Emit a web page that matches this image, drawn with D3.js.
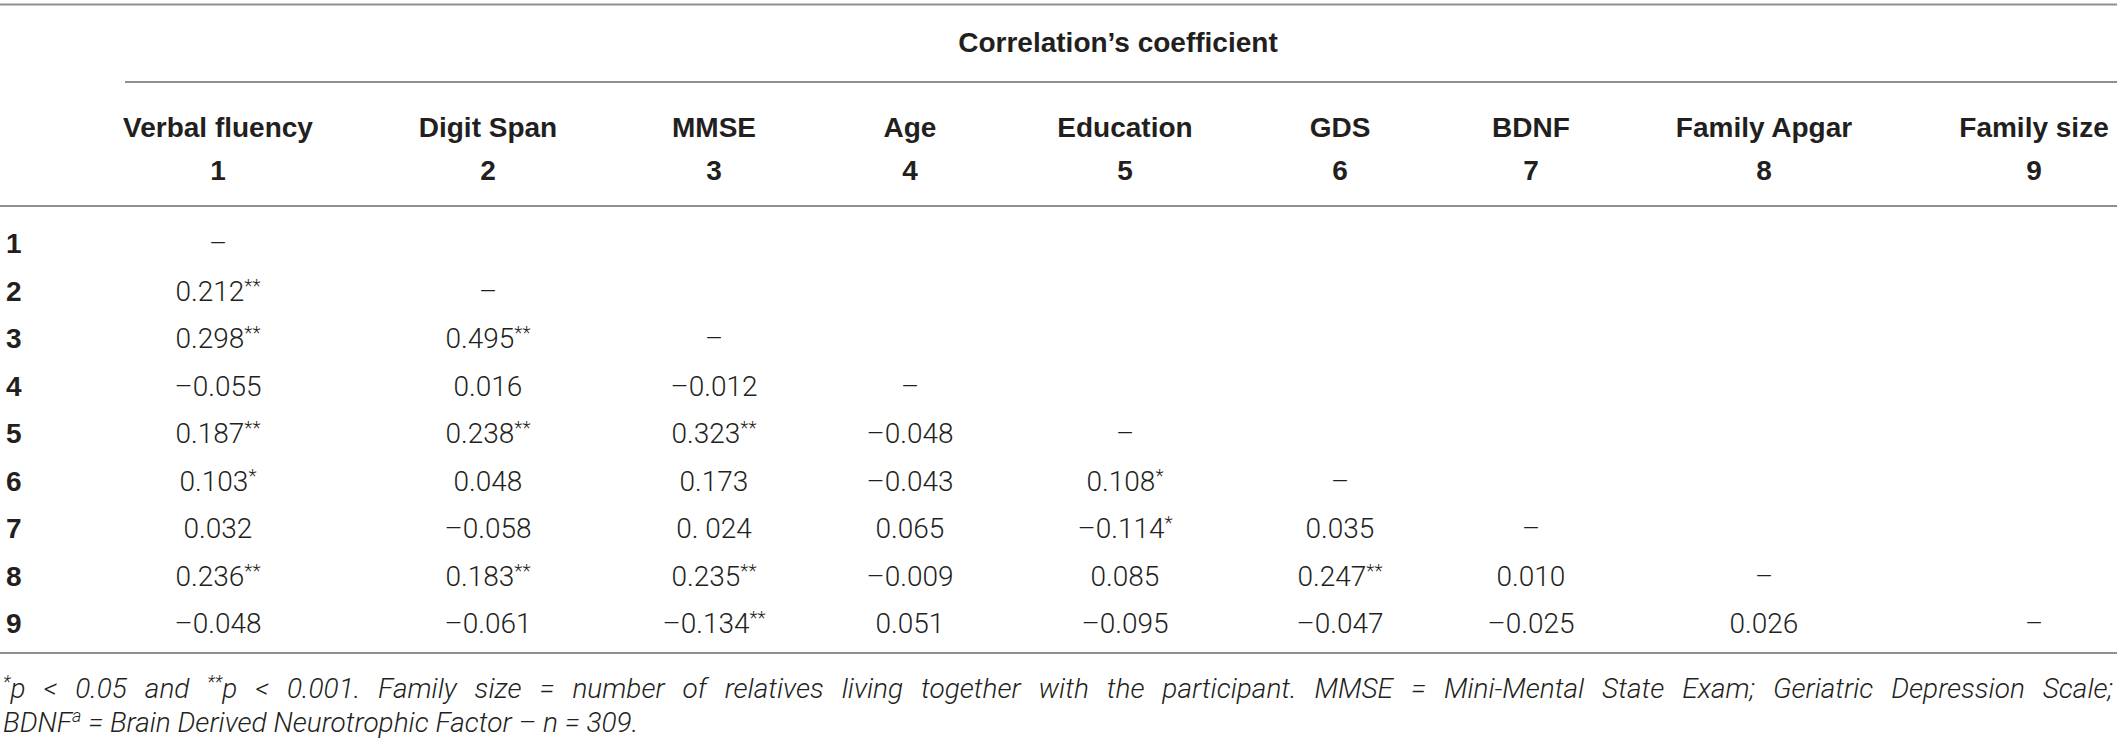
<!DOCTYPE html>
<html>
<head>
<meta charset="utf-8">
<script src="https://cdn.jsdelivr.net/npm/d3@7"></script>
<style>
  html, body { margin: 0; padding: 0; background: #fff; }
  svg { display: block; }
  .hdr { font-family: "Liberation Sans", Arial, sans-serif; font-weight: 700; fill: #231f20; }
  .cell { font-family: Roboto, "Liberation Sans", sans-serif; font-weight: 300; fill: #231f20; }
  .foot { font-family: Roboto, "Liberation Sans", sans-serif; font-weight: 300; font-style: italic; fill: #231f20; }
</style>
</head>
<body>
<script>
// ---- data ----
const title = "Correlation\u2019s coefficient";
const columnNames = ["Verbal fluency", "Digit Span", "MMSE", "Age", "Education", "GDS", "BDNF", "Family Apgar", "Family size"];
const columnNumbers = ["1", "2", "3", "4", "5", "6", "7", "8", "9"];
const rowLabels = ["1", "2", "3", "4", "5", "6", "7", "8", "9"];
// values [row][col]; significance marks kept separately
const row1 = ["\u2013"];
const row2 = ["0.212", "\u2013"];
const row3 = ["0.298", "0.495", "\u2013"];
const row4 = ["\u20130.055", "0.016", "\u20130.012", "\u2013"];
const row5 = ["0.187", "0.238", "0.323", "\u20130.048", "\u2013"];
const row6 = ["0.103", "0.048", "0.173", "\u20130.043", "0.108", "\u2013"];
const row7 = ["0.032", "\u20130.058", "0. 024", "0.065", "\u20130.114", "0.035", "\u2013"];
const row8 = ["0.236", "0.183", "0.235", "\u20130.009", "0.085", "0.247", "0.010", "\u2013"];
const row9 = ["\u20130.048", "\u20130.061", "\u20130.134", "0.051", "\u20130.095", "\u20130.047", "\u20130.025", "0.026", "\u2013"];
const sig1 = [""];
const sig2 = ["**", ""];
const sig3 = ["**", "**", ""];
const sig4 = ["", "", "", ""];
const sig5 = ["**", "**", "**", "", ""];
const sig6 = ["*", "", "", "", "*", ""];
const sig7 = ["", "", "", "", "*", "", ""];
const sig8 = ["**", "**", "**", "", "", "**", "", ""];
const sig9 = ["", "", "**", "", "", "", "", "", ""];
const footnote1 = [["*", true], ["p < 0.05 and ", false], ["**", true], ["p < 0.001. Family size = number of relatives living together with the participant. MMSE = Mini-Mental State Exam; Geriatric Depression Scale;", false]];
const footnote2 = [["BDNF", false], ["a", true], [" = Brain Derived Neurotrophic Factor \u2013 n = 309.", false]];

const values = [row1, row2, row3, row4, row5, row6, row7, row8, row9];
const sigs = [sig1, sig2, sig3, sig4, sig5, sig6, sig7, sig8, sig9];

// ---- layout ----
const W = 2117, H = 741;
const colCenters = [218, 488, 714, 910, 1125, 1340, 1531, 1764, 2034];
const x = d3.scaleOrdinal().domain(columnNumbers).range(colCenters);
const y = d3.scalePoint().domain(rowLabels).range([243, 623]);
const capOff = 10;
const fs = 28;

const svg = d3.select("body").append("svg").attr("width", W).attr("height", H);

const rules = [
  {x1: 0, x2: W, y: 4.5},
  {x1: 125, x2: W, y: 82},
  {x1: 0, x2: W, y: 206},
  {x1: 0, x2: W, y: 653}
];
svg.selectAll("line.rule").data(rules).join("line")
  .attr("x1", d => d.x1).attr("x2", d => d.x2)
  .attr("y1", d => d.y).attr("y2", d => d.y)
  .attr("stroke", "#8f8f8f").attr("stroke-width", 2);

svg.append("text").attr("class", "hdr")
  .attr("x", (x("1") + x("9")) / 2 - 8).attr("y", 42 + capOff)
  .attr("text-anchor", "middle").attr("font-size", fs).text(title);

svg.selectAll("text.cname").data(columnNames).join("text")
  .attr("class", "hdr cname")
  .attr("x", (d, i) => x(columnNumbers[i])).attr("y", 127 + capOff)
  .attr("text-anchor", "middle").attr("font-size", fs).text(d => d);

svg.selectAll("text.cnum").data(columnNumbers).join("text")
  .attr("class", "hdr cnum")
  .attr("x", d => x(d)).attr("y", 170 + capOff)
  .attr("text-anchor", "middle").attr("font-size", fs).text(d => d);

svg.selectAll("text.rlab").data(rowLabels).join("text")
  .attr("class", "hdr rlab")
  .attr("x", 6).attr("y", d => y(d) + capOff)
  .attr("font-size", fs).text(d => d);

const cells = [];
values.forEach((row, r) => row.forEach((v, c) => cells.push({r: rowLabels[r], c: columnNumbers[c], v, s: sigs[r][c]})));

const cellText = svg.selectAll("text.cell").data(cells).join("text")
  .attr("class", "cell")
  .attr("x", d => x(d.c)).attr("y", d => y(d.r) + capOff)
  .attr("text-anchor", "middle").attr("font-size", fs);
cellText.append("tspan").text(d => d.v);
cellText.filter(d => d.s).append("tspan")
  .attr("font-size", 19).attr("dy", -9).text(d => d.s);

function footLine(parts, yy, justify) {
  const t = svg.append("text").attr("class", "foot")
    .attr("x", 3).attr("y", yy).attr("font-size", 28);
  let shifted = false;
  parts.forEach(([s, sup]) => {
    const ts = t.append("tspan").text(s);
    if (sup && !shifted) { ts.attr("font-size", 18).attr("dy", -10); shifted = true; }
    else if (!sup && shifted) { ts.attr("dy", 10); shifted = false; }
    else if (sup) { ts.attr("font-size", 18); }
  });
  if (justify) {
    const natural = t.node().getComputedTextLength();
    const nSpaces = parts.map(p => p[0]).join("").split(" ").length - 1;
    const extra = (justify - natural) / nSpaces;
    t.style("word-spacing", extra + "px");
  }
}
footLine(footnote1, 688 + 10, 2110);
footLine(footnote2, 722 + 10, null);
</script>
</body>
</html>
